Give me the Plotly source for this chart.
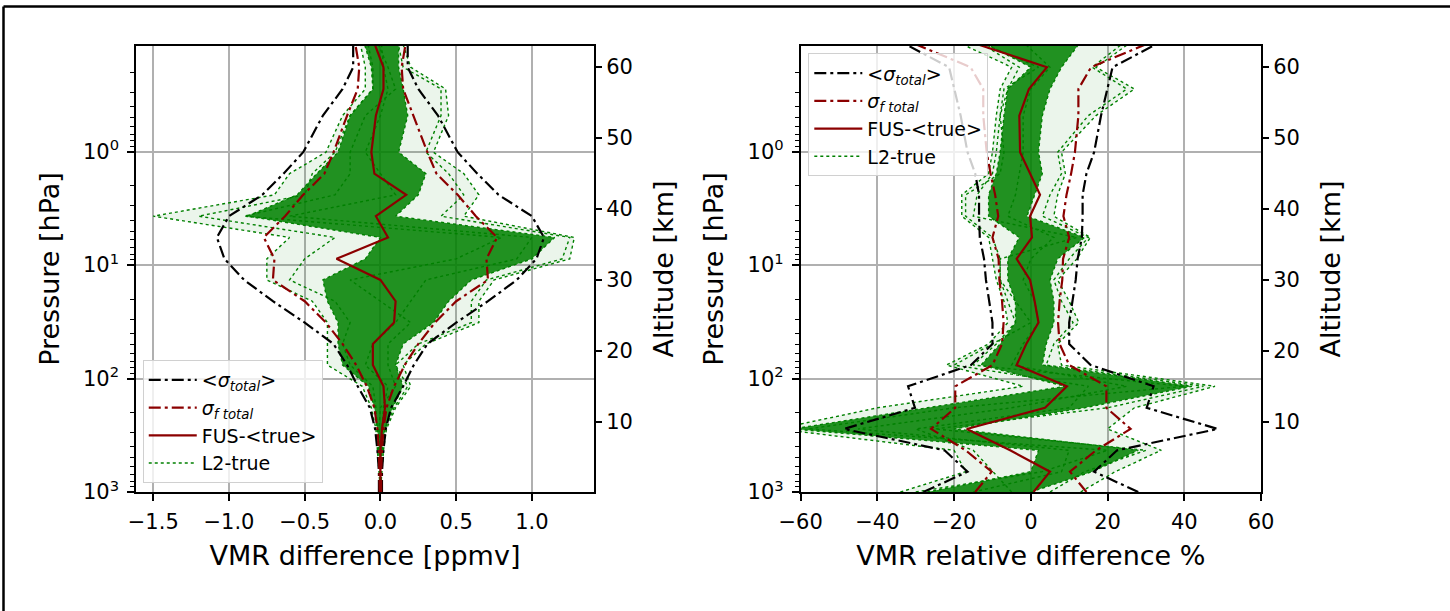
import plotly.graph_objects as go

# ---------------- data ----------------
P_HPA = [1000, 662, 429, 278, 181, 117, 76, 49.5, 32.1, 20.8, 13.5, 8.8,
         5.7, 3.7, 2.4, 1.56, 1.01, 0.48, 0.28, 0.18, 0.087]

# left panel: VMR difference [ppmv]
L_SIG_TOT = [0.01, 0.01, 0.02, 0.035, 0.07, 0.15, 0.22, 0.31, 0.5, 0.71, 0.9, 1.03,
             1.08, 1.0, 0.78, 0.64, 0.51, 0.38, 0.25, 0.18, 0.18]
L_SIG_F = [0.005, 0.005, 0.01, 0.02, 0.04, 0.09, 0.16, 0.25, 0.36, 0.5, 0.71, 0.70,
           0.77, 0.63, 0.51, 0.37, 0.31, 0.22, 0.15, 0.14, 0.18]
L_FUS = [0.0, 0.0, 0.0, 0.01, 0.03, 0.02, -0.05, -0.05, 0.09, 0.10, 0.0, -0.29,
         0.05, -0.03, 0.17, -0.04, -0.06, -0.03, 0.02, 0.02, -0.07]
L_CORE_LO = [0.0, 0.0, -0.01, -0.02, -0.04, -0.08, -0.25, -0.28, -0.28, -0.35, -0.38, -0.1,
             0.0, -0.88, -0.55, -0.42, -0.28, -0.2, -0.05, -0.06, -0.13]
L_CORE_HI = [0.0, 0.0, 0.01, 0.03, 0.08, 0.15, 0.1, 0.15, 0.35, 0.45, 0.6, 1.0,
             1.15, 0.1, 0.25, 0.3, 0.12, 0.18, 0.15, 0.12, 0.12]
L_OUT_LO = [0.0, -0.01, -0.02, -0.03, -0.06, -0.12, -0.35, -0.35, -0.35, -0.45, -0.75, -0.75,
            -0.6, -1.5, -0.7, -0.6, -0.36, -0.25, -0.1, -0.1, -0.15]
L_OUT_HI = [0.0, 0.01, 0.02, 0.04, 0.1, 0.2, 0.15, 0.3, 0.65, 0.65, 0.75, 1.25,
            1.28, 0.55, 0.65, 0.55, 0.35, 0.45, 0.43, 0.2, 0.12]
L_PROF_1 = [0.0, 0.0, -0.01, -0.02, -0.03, -0.05, -0.2, -0.25, -0.2, -0.3, -0.6, -0.5,
            -0.3, -1.2, -0.5, -0.45, -0.3, -0.2, -0.05, -0.05, -0.1]
L_PROF_2 = [0.0, 0.0, 0.01, 0.03, 0.09, 0.18, 0.1, 0.25, 0.6, 0.6, 0.7, 1.2,
            1.25, 0.4, 0.55, 0.45, 0.3, 0.4, 0.4, 0.15, 0.1]
L_PROF_3 = [0.0, 0.0, 0.0, 0.01, 0.02, 0.05, -0.1, -0.05, 0.1, 0.2, 0.3, 0.9,
            1.0, -0.6, 0.1, 0.0, -0.1, 0.0, 0.05, 0.02, 0.0]
L_PROF_4 = [0.0, 0.0, 0.0, -0.01, 0.0, 0.1, 0.05, 0.05, 0.2, 0.0, -0.2, 0.5,
            0.8, -0.9, -0.3, -0.2, -0.2, -0.1, 0.1, 0.05, -0.05]

# right panel: VMR relative difference %
R_SIG_TOT = [28, 16.5, 22.5, 48.7, 30.2, 32, 15.6, 10, 10, 10.8, 11.7, 12.2,
             13.3, 13.5, 13.5, 14.5, 16.5, 18.3, 20, 21.3, 39]
R_SIG_F = [14.5, 10.2, 17, 26, 19.7, 19.7, 10, 7.5, 7.1, 7.5, 8.2, 8.4,
           10, 8.5, 9.3, 10.5, 11.5, 12.4, 12.4, 15.7, 38]
R_FUS = [0.7, 5.0, -5.4, -16.7, 3.7, 9.4, -3.7, -1.2, 2.0, 1.0, -0.2, -3.7,
         0.3, -0.2, 2.4, -0.2, -2.8, -3.0, -0.5, 4.2, -24]
R_CORE_LO = [-27, 0, 2, -62, -27, 9, -13, -8, -4, -4, -6, -6,
             -3, -11, -11, -9, -8, -7, -6, 0, -18]
R_CORE_HI = [0, 16, 28, -20, 14, 42, 3, 4, 6, 6, 5, 7,
             14, -1, 1, 3, 2, 3, 5, 8, 15]
R_OUT_LO = [-34, -17, -20, -66, -40, -2, -22, -11, -6, -7, -9, -10,
            -11, -18, -18, -11, -10, -9, -8, -5, -25]
R_OUT_HI = [13, 22, 34, 20, 27, 48, 8, 7, 12.5, 10, 7, 12,
            15.5, 6, 7, 9, 8, 17, 27, 17, 30]
R_PROF_1 = [-30, 3, 20, -58, -20, 40, -15, -9, -4, -6, -8, -8,
            12, -15, -14, -10, -9, -8, -7, 2, -20]
R_PROF_2 = [5, 14, 30, -25, 20, 45, 4, 6, 11, 8, 6, 10,
            15, 3, 5, 8, 7, 15, 25, 16, 28]
R_PROF_3 = [-15, 8, 10, -45, -5, 25, -5, -2, 2, 1, -2, 0,
            6, -6, -4, -3, -2, -2, 0, 5, -5]
R_PROF_4 = [-5, -10, -15, -30, 10, 15, -20, -10, 0, -4, -8, -8,
            -10, -17, -17, -8, -7, -8, -6, -3, -18]

P_TICKS = [1, 10, 100, 1000]
P_TICKTEXT = ["10<sup>0</sup>", "10<sup>1</sup>", "10<sup>2</sup>", "10<sup>3</sup>"]
P_MINOR = [0.2, 0.3, 0.4, 0.5, 0.6, 0.7, 0.8, 0.9, 2, 3, 4, 5, 6, 7, 8, 9,
           20, 30, 40, 50, 60, 70, 80, 90, 200, 300, 400, 500, 600, 700, 800, 900]
ALT_TICKS = [10, 20, 30, 40, 50, 60]
L_XTICKS = [-1.5, -1.0, -0.5, 0.0, 0.5, 1.0]
R_XTICKS = [-60, -40, -20, 0, 20, 40, 60]

NAME_SIG_TOT = "&lt;<i>σ</i><sub><i>total</i></sub>&gt;"
NAME_SIG_F = "<i>σ</i><sub><i>f total</i></sub>"
NAME_FUS = "FUS-&lt;true&gt;"
NAME_L2 = "L2-true"

# ---------------- styling ----------------
FONT = "DejaVu Sans"
GREEN = "#008000"
DARKRED = "#8b0000"
GRID = "#b0b0b0"
DASHDOT = "12px,4px,3px,4px"
TICK_FS = 21
TITLE_FS = 27

fig = go.Figure()


def add_panel(xa, ya, ya_alt, legend, sig_tot, sig_f, fus, core_lo, core_hi,
              out_lo, out_hi, profs):
    rp = P_HPA[::-1]
    # sparse spread of all L2 profiles
    fig.add_trace(go.Scatter(x=out_lo + out_hi[::-1], y=P_HPA + rp, fill="toself",
                             fillcolor="rgba(0,128,0,0.08)", line=dict(width=0),
                             mode="lines", showlegend=False, hoverinfo="skip",
                             xaxis=xa, yaxis=ya))
    # dense core of L2 profiles
    fig.add_trace(go.Scatter(x=core_lo + core_hi[::-1], y=P_HPA + rp, fill="toself",
                             fillcolor="rgba(0,128,0,0.86)", line=dict(width=0),
                             mode="lines", showlegend=False, hoverinfo="skip",
                             xaxis=xa, yaxis=ya))
    green_sets = [out_lo, out_hi, core_lo, core_hi] + profs
    for i, g in enumerate(green_sets):
        fig.add_trace(go.Scatter(x=g, y=P_HPA, mode="lines",
                                 line=dict(color=GREEN, width=1.4, dash="dot"),
                                 name=NAME_L2, showlegend=(i == 0), legend=legend,
                                 legendrank=4, xaxis=xa, yaxis=ya))
    neg_tot = [-v for v in sig_tot]
    neg_f = [-v for v in sig_f]
    fig.add_trace(go.Scatter(x=neg_tot, y=P_HPA, mode="lines",
                             line=dict(color="black", width=2.2, dash=DASHDOT),
                             name=NAME_SIG_TOT, showlegend=True, legend=legend,
                             legendrank=1, xaxis=xa, yaxis=ya))
    fig.add_trace(go.Scatter(x=sig_tot, y=P_HPA, mode="lines",
                             line=dict(color="black", width=2.2, dash=DASHDOT),
                             showlegend=False, xaxis=xa, yaxis=ya))
    fig.add_trace(go.Scatter(x=neg_f, y=P_HPA, mode="lines",
                             line=dict(color=DARKRED, width=2.2, dash=DASHDOT),
                             name=NAME_SIG_F, showlegend=True, legend=legend,
                             legendrank=2, xaxis=xa, yaxis=ya))
    fig.add_trace(go.Scatter(x=sig_f, y=P_HPA, mode="lines",
                             line=dict(color=DARKRED, width=2.2, dash=DASHDOT),
                             showlegend=False, xaxis=xa, yaxis=ya))
    fig.add_trace(go.Scatter(x=fus, y=P_HPA, mode="lines",
                             line=dict(color=DARKRED, width=2.2),
                             name=NAME_FUS, showlegend=True, legend=legend,
                             legendrank=3, xaxis=xa, yaxis=ya))
    # invisible anchor so that the altitude axis is drawn
    fig.add_trace(go.Scatter(x=[0], y=[ALT_TICKS[0]], mode="markers",
                             marker=dict(opacity=0), showlegend=False,
                             hoverinfo="skip", xaxis=xa, yaxis=ya_alt))


add_panel("x", "y", "y2", "legend", L_SIG_TOT, L_SIG_F, L_FUS, L_CORE_LO, L_CORE_HI,
          L_OUT_LO, L_OUT_HI, [L_PROF_1, L_PROF_2, L_PROF_3, L_PROF_4])
add_panel("x2", "y3", "y4", "legend2", R_SIG_TOT, R_SIG_F, R_FUS, R_CORE_LO, R_CORE_HI,
          R_OUT_LO, R_OUT_HI, [R_PROF_1, R_PROF_2, R_PROF_3, R_PROF_4])

tickfont = dict(family=FONT, size=TICK_FS, color="black")
titlefont = dict(family=FONT, size=TITLE_FS, color="black")

common_x = dict(showline=True, mirror=True, linecolor="black", linewidth=1.5,
                ticks="outside", ticklen=7, tickwidth=1.5, tickcolor="black",
                showgrid=True, gridcolor=GRID, gridwidth=1.6, zeroline=False,
                tickfont=tickfont, tickformat=".1f", automargin=False,
                ticklabelstandoff=3)
common_p = dict(type="log", range=[3, -0.932], showline=True, mirror=True,
                linecolor="black", linewidth=1.5, ticks="outside", ticklen=7,
                tickwidth=1.5, tickcolor="black", showgrid=True, gridcolor=GRID,
                gridwidth=1.6, zeroline=False, tickmode="array", tickvals=P_TICKS,
                ticktext=P_TICKTEXT, tickfont=tickfont, automargin=False,
                ticklabelstandoff=4,
                minor=dict(tickmode="array", tickvals=P_MINOR, ticks="outside",
                           ticklen=4, tickwidth=1, tickcolor="black", showgrid=False),
                title=dict(text="Pressure [hPa]", font=titlefont, standoff=16))
common_alt = dict(range=[0.13, 62.91], side="right", showgrid=False, zeroline=False,
                  showline=False, ticks="outside", ticklen=7, tickwidth=1.5,
                  tickcolor="black", tickmode="array", tickvals=ALT_TICKS,
                  tickfont=tickfont, automargin=False,
                  title=dict(text="Altitude [km]", font=titlefont, standoff=22))

legend_common = dict(font=dict(family=FONT, size=19, color="black"),
                     bgcolor="rgba(255,255,255,0.8)", bordercolor="#d0d0d0",
                     borderwidth=1, tracegroupgap=0, traceorder="normal",
                     itemwidth=48, entrywidth=168, entrywidthmode="pixels")

# frame: top and left border lines of the original figure
PW = 1125.0
PH = 446.0


def px_x(p):
    return (p - 136) / PW


def px_y(p):
    return (492 - p) / PH


fig.update_layout(
    width=1450, height=611,
    margin=dict(l=136, r=189, t=46, b=119, autoexpand=False),
    paper_bgcolor="white", plot_bgcolor="white",
    font=dict(family=FONT, color="black"),
    xaxis=dict(domain=[0, 0.4071], range=[-1.614, 1.41], tickmode="array",
               tickvals=L_XTICKS, anchor="y",
               title=dict(text="VMR difference [ppmv]", font=titlefont, standoff=13),
               **common_x),
    xaxis2=dict(domain=[0.5908, 1], range=[-60, 60], tickmode="array",
                tickvals=R_XTICKS, anchor="y3",
                title=dict(text="VMR relative difference %", font=titlefont, standoff=13),
                **{**common_x, "tickformat": "d"}),
    yaxis=dict(anchor="x", domain=[0, 1], **common_p),
    yaxis2=dict(overlaying="y", anchor="x", **common_alt),
    yaxis3=dict(anchor="x2", domain=[0, 1], **common_p),
    yaxis4=dict(overlaying="y3", anchor="x2", **common_alt),
    legend=dict(x=0.006, y=0.02, xanchor="left", yanchor="bottom", **legend_common),
    legend2=dict(x=0.5976, y=0.9836, xanchor="left", yanchor="top", **legend_common),
    shapes=[
        dict(type="line", xref="paper", yref="paper", x0=px_x(3.5), x1=px_x(1450),
             y0=px_y(6.5), y1=px_y(6.5), line=dict(color="black", width=2.5)),
        dict(type="line", xref="paper", yref="paper", x0=px_x(3.5), x1=px_x(3.5),
             y0=px_y(6.5), y1=px_y(611), line=dict(color="black", width=2.5)),
    ],
)

fig.write_html("out.html", config={"displayModeBar": False},
               post_script="document.body.style.margin='0';"
                           "document.body.style.overflow='hidden';")
